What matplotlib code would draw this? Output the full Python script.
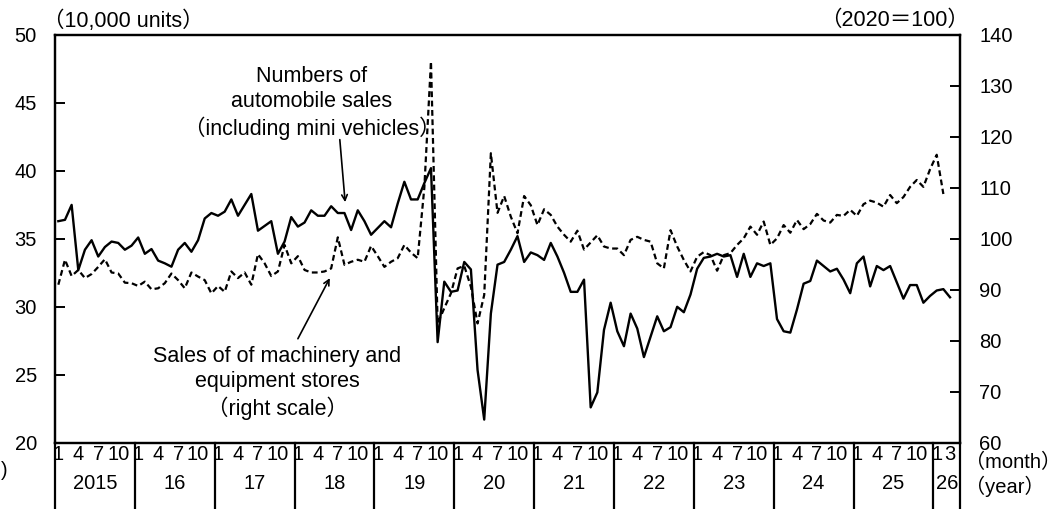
import matplotlib.pyplot as plt
import matplotlib.transforms as mtransforms

# monthly data, Jan 2015 onward
# number of automobile sales (10,000 units), Jan 2015 - Mar 2026
auto_sales = [
    36.3, 36.4, 37.5, 32.7, 34.2, 34.9, 33.7, 34.4, 34.8, 34.7, 34.2, 34.5,
    35.1, 33.9, 34.25, 33.4, 33.2, 32.95, 34.2, 34.7, 34.05, 34.9, 36.5, 36.9,
    36.7, 37.0, 37.9, 36.7, 37.5, 38.3, 35.6, 35.95, 36.3, 33.9, 34.8, 36.6,
    35.9, 36.2, 37.1, 36.7, 36.7, 37.4, 36.9, 36.9, 35.65, 37.1, 36.3, 35.3,
    35.8, 36.3, 35.85, 37.6, 39.2, 37.9, 37.9, 39.1, 40.2, 27.4, 31.85, 31.1,
    31.2, 33.3, 32.75, 25.35, 21.7, 29.5, 33.1, 33.3, 34.2, 35.2, 33.3, 34.0,
    33.8, 33.45, 34.7, 33.7, 32.5, 31.1, 31.1, 32.0, 22.6, 23.7, 28.3, 30.3,
    28.2, 27.1, 29.5, 28.4, 26.3, 27.8, 29.3, 28.2, 28.5, 30.0, 29.6, 30.9,
    32.8, 33.6, 33.7, 33.9, 33.7, 33.8, 32.2, 33.9, 32.2, 33.2, 33.0, 33.2,
    29.1, 28.2, 28.1, 29.8, 31.7, 31.9, 33.4, 33.0, 32.6, 32.8, 32.0, 31.0,
    33.2, 33.7, 31.5, 33.0, 32.7, 33.0, 31.8, 30.6, 31.6, 31.6, 30.3, 30.8,
    31.2, 31.3, 30.7,
]

# sales of machinery and equipment stores (2020=100), Jan 2015 - Feb 2026
machinery_sales = [
    91.0, 95.9, 92.7, 93.9, 92.3, 93.1, 94.5, 96.0, 93.4, 93.2, 91.4, 91.3,
    90.75, 91.6, 90.1, 90.3, 91.3, 93.2, 91.9, 90.3, 93.4, 92.6, 91.9, 89.3,
    90.75, 89.6, 93.6, 92.3, 93.4, 91.0, 97.0, 95.2, 92.7, 93.6, 98.8, 95.2,
    96.6, 93.9, 93.4, 93.4, 93.6, 94.2, 100.3, 94.9, 95.5, 95.9, 95.5, 98.6,
    96.6, 94.5, 95.5, 96.2, 98.8, 97.3, 96.2, 110.0, 134.8, 83.4, 86.4, 89.3,
    94.2, 94.7, 90.6, 83.4, 89.0, 116.8, 105.1, 108.4, 104.35, 101.1, 108.4, 106.6,
    102.7, 105.8, 104.7, 102.4, 100.8, 99.45, 101.6, 97.9, 99.3, 100.7, 98.5, 98.1,
    98.1, 96.8, 99.8, 100.4, 99.8, 99.45, 95.2, 94.2, 101.7, 98.5, 95.85, 93.6,
    96.5, 97.4, 96.8, 93.75, 96.8, 97.2, 98.8, 100.1, 102.4, 100.8, 103.4, 98.8,
    100.1, 102.7, 101.2, 103.7, 101.9, 102.9, 104.9, 103.6, 103.2, 104.7, 104.5, 105.7,
    104.5, 106.8, 107.5, 107.1, 106.3, 108.6, 107.0, 108.2, 110.2, 111.55, 110.2, 113.65,
    116.5, 108.8,
]

year_labels = ["2015", "16", "17", "18", "19", "20", "21", "22", "23", "24", "25", "26"]
month_labels = ["1", "4", "7", "10"]
months_2026 = ["1", "3"]

plt.rcParams['font.family'] = ['Liberation Sans', 'Noto Sans CJK JP']
FS = 14.5     # ticks
FS_TXT = 15.5  # annotations / unit labels

fig = plt.figure(figsize=(10.62, 5.09), dpi=100)
ax = fig.add_axes([55 / 1062, 66.3 / 509, 905 / 1062, 407.7 / 509])
ax2 = ax.twinx()

x_auto = list(range(len(auto_sales)))
x_mach = list(range(len(machinery_sales)))
ax.plot(x_auto, auto_sales, color="black", lw=1.7, zorder=3)
ax2.plot(x_mach, machinery_sales, color="black", lw=1.6, linestyle=(0, (2.6, 1.6)))

n_months = 12 * (len(year_labels) - 1) + 4
ax.set_xlim(-0.5, n_months - 0.5)
ax.set_ylim(20, 50)
ax2.set_ylim(60, 140)
ax.set_yticks([20, 25, 30, 35, 40, 45, 50])
ax2.set_yticks([60, 70, 80, 90, 100, 110, 120, 130, 140])

for a in (ax, ax2):
    for s in a.spines.values():
        s.set_linewidth(1.6)
ax.tick_params(axis='y', direction='in', length=7, width=1.4, pad=13, labelsize=FS)
ax2.tick_params(axis='y', direction='in', length=7, width=1.4, pad=14, labelsize=FS)

# month tick labels
xt, xl = [], []
for k in range(len(year_labels) - 1):
    for j, m in enumerate(month_labels):
        xt.append(12 * k + 3 * j)
        xl.append(m)
xt += [12 * 11, 12 * 11 + 2]
xl += months_2026
ax.set_xticks(xt)
ax.set_xticklabels(xl)
ax.tick_params(axis='x', length=0, pad=2, labelsize=FS)

# year separators and labels below the axis
trans = mtransforms.blended_transform_factory(ax.transData, ax.transAxes)
bottom = -66.3 / 407.7
bounds = [-0.5 + 12 * k for k in range(len(year_labels))] + [n_months - 0.5]
for b in bounds:
    ax.plot([b, b], [0, bottom], color="black", lw=1.6, transform=trans, clip_on=False)
for k, lab in enumerate(year_labels):
    c = (bounds[k] + bounds[k + 1]) / 2
    ax.text(c, -0.099, lab, transform=trans, ha="center", va="center", fontsize=FS)

# unit labels
ax.text(-0.013, 1.008, "（10,000 units）", transform=ax.transAxes, ha="left", va="bottom", fontsize=FS_TXT)
ax.text(1.01, 1.01, "（2020＝100）", transform=ax.transAxes, ha="right", va="bottom", fontsize=FS_TXT)
fig.text(965 / 1062, 1 - 462 / 509, "（month）", ha="left", va="center", fontsize=FS)
fig.text(965 / 1062, 1 - 486 / 509, "（year）", ha="left", va="center", fontsize=FS)
fig.text(0.001, 1 - 470 / 509, ")", ha="left", va="center", fontsize=FS)

# annotations
ax.text(38.1, 45.0, "Numbers of\nautomobile sales\n（including mini vehicles）",
        ha="center", va="center", fontsize=FS_TXT, linespacing=1.25)
ax.annotate("", xy=(43.1, 37.7), xytext=(42.3, 42.3),
            arrowprops=dict(arrowstyle="->", color="black", lw=1.2, shrinkA=0, shrinkB=0))
ax2.text(32.9, 71.7, "Sales of of machinery and\nequipment stores\n（right scale）",
         ha="center", va="center", fontsize=FS_TXT, linespacing=1.25)
ax2.annotate("", xy=(40.8, 92.3), xytext=(36.0, 80.4),
             arrowprops=dict(arrowstyle="->", color="black", lw=1.2, shrinkA=0, shrinkB=0))

fig.savefig("out.png", dpi=100)
